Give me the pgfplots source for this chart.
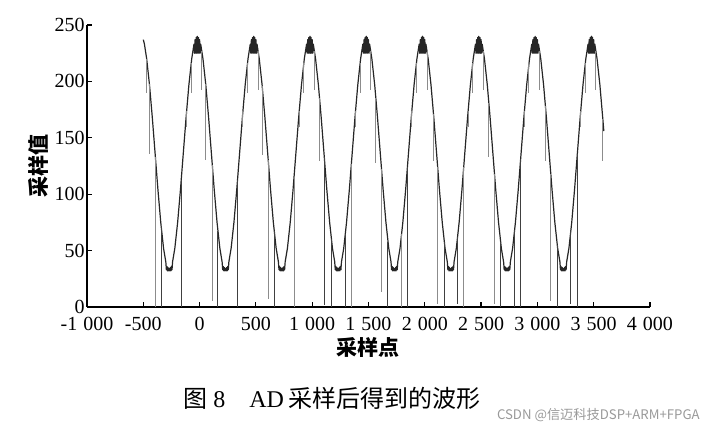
\documentclass[border=0pt]{standalone}
\usepackage{pgfplots}
\pgfplotsset{compat=1.18}
\usepackage{fontspec}
\setmainfont{Liberation Serif}
\newfontfamily\cjk{Noto Sans CJK SC}
\begin{document}
\begin{tikzpicture}[x=0.5pt,y=0.5pt]
\useasboundingbox (0,0) rectangle (714,431);
\begin{axis}[
  at={(43.5pt,62pt)}, anchor=south west,
  scale only axis, width=281.5pt, height=141pt,
  xmin=-1000, xmax=4000, ymin=0, ymax=250,
  axis lines=left, axis line style={-, line width=0.7pt},
  xtick={-1000,-500,...,4000}, ytick={0,50,...,250},
  tick align=inside, major tick length=2.5pt, tick style={line width=0.6pt, black},
  scaled x ticks=false, scaled y ticks=false,
  /pgf/number format/assume math mode=true,
  /pgf/number format/1000 sep={\hspace{0.3em}},
  ticklabel style={font=\fontsize{10}{11}\selectfont},
  yticklabel style={inner sep=1pt},
  xticklabel style={inner sep=2pt, yshift=-3pt},
  xlabel={\cjk\bfseries 采样点},
  ylabel={\cjk\bfseries 采样值},
  label style={font=\fontsize{10.5}{12}\selectfont},
  xlabel style={at={(axis description cs:0.5,-0.142)}, anchor=center},
  ylabel style={at={(axis description cs:-0.087,0.5)}, anchor=center},
  unbounded coords=jump,
  clip=false,
]
% main waveform
\addplot[black!85, line width=0.6pt, line join=round] coordinates {
(-500,237) (-490,233) (-470,220) (-445,197) (-420,168) (-395,136) (-370,104) (-345,75) (-320,52) (-300,40) (-295,33) (-290,36) (-285,32) (-280,35) (-275,32) (-270,34) (-265,32) (-260,35) (-255,32) (-250,36) (-245,33) (-240,40) (-220,52) (-195,75) (-170,104) (-145,136) (-120,168) (-95,197) (-70,220) (-50,233) (-45,225) (-40,237) (-35,225) (-30,239) (-25,225) (-20,240) (-15,225) (-10,239) (-5,225) (0,237) (5,225)
(10,233) (30,220) (55,197) (80,168) (105,136) (130,104) (155,75) (180,52) (200,40) (205,33) (210,36) (215,32) (220,35) (225,32) (230,34) (235,32) (240,35) (245,32) (250,36) (255,33) (260,40) (280,52) (305,75) (330,104) (355,136) (380,168) (405,197) (430,220) (450,233) (455,225) (460,237) (465,225) (470,239) (475,225) (480,240) (485,225) (490,239) (495,225) (500,237) (505,225)
(510,233) (530,220) (555,197) (580,168) (605,136) (630,104) (655,75) (680,52) (700,40) (705,33) (710,36) (715,32) (720,35) (725,32) (730,34) (735,32) (740,35) (745,32) (750,36) (755,33) (760,40) (780,52) (805,75) (830,104) (855,136) (880,168) (905,197) (930,220) (950,233) (955,225) (960,237) (965,225) (970,239) (975,225) (980,240) (985,225) (990,239) (995,225) (1000,237) (1005,225)
(1010,233) (1030,220) (1055,197) (1080,168) (1105,136) (1130,104) (1155,75) (1180,52) (1200,40) (1205,33) (1210,36) (1215,32) (1220,35) (1225,32) (1230,34) (1235,32) (1240,35) (1245,32) (1250,36) (1255,33) (1260,40) (1280,52) (1305,75) (1330,104) (1355,136) (1380,168) (1405,197) (1430,220) (1450,233) (1455,225) (1460,237) (1465,225) (1470,239) (1475,225) (1480,240) (1485,225) (1490,239) (1495,225) (1500,237) (1505,225)
(1510,233) (1530,220) (1555,197) (1580,168) (1605,136) (1630,104) (1655,75) (1680,52) (1700,40) (1705,33) (1710,36) (1715,32) (1720,35) (1725,32) (1730,34) (1735,32) (1740,35) (1745,32) (1750,36) (1755,33) (1760,40) (1780,52) (1805,75) (1830,104) (1855,136) (1880,168) (1905,197) (1930,220) (1950,233) (1955,225) (1960,237) (1965,225) (1970,239) (1975,225) (1980,240) (1985,225) (1990,239) (1995,225) (2000,237) (2005,225)
(2010,233) (2030,220) (2055,197) (2080,168) (2105,136) (2130,104) (2155,75) (2180,52) (2200,40) (2205,33) (2210,36) (2215,32) (2220,35) (2225,32) (2230,34) (2235,32) (2240,35) (2245,32) (2250,36) (2255,33) (2260,40) (2280,52) (2305,75) (2330,104) (2355,136) (2380,168) (2405,197) (2430,220) (2450,233) (2455,225) (2460,237) (2465,225) (2470,239) (2475,225) (2480,240) (2485,225) (2490,239) (2495,225) (2500,237) (2505,225)
(2510,233) (2530,220) (2555,197) (2580,168) (2605,136) (2630,104) (2655,75) (2680,52) (2700,40) (2705,33) (2710,36) (2715,32) (2720,35) (2725,32) (2730,34) (2735,32) (2740,35) (2745,32) (2750,36) (2755,33) (2760,40) (2780,52) (2805,75) (2830,104) (2855,136) (2880,168) (2905,197) (2930,220) (2950,233) (2955,225) (2960,237) (2965,225) (2970,239) (2975,225) (2980,240) (2985,225) (2990,239) (2995,225) (3000,237) (3005,225)
(3010,233) (3030,220) (3055,197) (3080,168) (3105,136) (3130,104) (3155,75) (3180,52) (3200,40) (3205,33) (3210,36) (3215,32) (3220,35) (3225,32) (3230,34) (3235,32) (3240,35) (3245,32) (3250,36) (3255,33) (3260,40) (3280,52) (3305,75) (3330,104) (3355,136) (3380,168) (3405,197) (3430,220) (3450,233) (3455,225) (3460,237) (3465,225) (3470,239) (3475,225) (3480,240) (3485,225) (3490,239) (3495,225) (3500,237) (3505,225)
(3510,233) (3530,220) (3555,197) (3580,168) (3590,156)
};
% dark glitches
\addplot[black!75, line width=0.5pt] coordinates {
(-342,72) (-342,0) (-342,nan)
(-163,113) (-163,0) (-163,nan)
(163,67) (163,0) (163,nan)
(337,113) (337,0) (337,nan)
(663,67) (663,0) (663,nan)
(1107,133) (1107,2) (1107,nan)
(1170,60) (1170,0) (1170,nan)
(1295,65) (1295,0) (1295,nan)
(1673,58) (1673,0) (1673,nan)
(1846,124) (1846,0) (1846,nan)
(2173,58) (2173,0) (2173,nan)
(2292,62) (2292,3) (2292,nan)
(2673,58) (2673,0) (2673,nan)
(2798,68) (2798,0) (2798,nan)
(2851,131) (2851,0) (2851,nan)
(3176,55) (3176,0) (3176,nan)
(3298,68) (3298,3) (3298,nan)
(3355,136) (3355,0)
};
% light glitches
\addplot[black!45, line width=0.5pt] coordinates {
(-393,133) (-393,0) (-393,nan)
(113,126) (113,5) (113,nan)
(610,130) (610,7) (610,nan)
(839,115) (839,0) (839,nan)
(1348,127) (1348,0) (1348,nan)
(1616,122) (1616,13) (1616,nan)
(1795,65) (1795,0) (1795,nan)
(2114,124) (2114,3) (2114,nan)
(2346,124) (2346,0) (2346,nan)
(2619,118) (2619,3) (2619,nan)
(3119,118) (3119,5) (3119,nan)
(-446,198) (-446,136) (-446,nan)
(54,198) (54,130) (54,nan)
(556,196) (556,135) (556,nan)
(1066,185) (1066,129) (1066,nan)
(1566,185) (1566,128) (1566,nan)
(2078,171) (2078,129) (2078,nan)
(2569,181) (2569,133) (2569,nan)
(3072,178) (3072,129) (3072,nan)
(3581,167) (3581,129) (3581,nan)
(-470,220) (-470,190) (-470,nan)
(-75,216) (-75,190) (-75,nan) (20,227) (20,192) (20,nan) (-115,174) (-115,160) (-115,nan)
(425,216) (425,190) (425,nan) (520,227) (520,192) (520,nan) (385,174) (385,160) (385,nan)
(925,216) (925,190) (925,nan) (1020,227) (1020,192) (1020,nan) (885,174) (885,160) (885,nan)
(1425,216) (1425,190) (1425,nan) (1520,227) (1520,192) (1520,nan) (1385,174) (1385,160) (1385,nan)
(1925,216) (1925,190) (1925,nan) (2020,227) (2020,192) (2020,nan) (1885,174) (1885,160) (1885,nan)
(2425,216) (2425,190) (2425,nan) (2520,227) (2520,192) (2520,nan) (2385,174) (2385,160) (2385,nan)
(2925,216) (2925,190) (2925,nan) (3020,227) (3020,192) (3020,nan) (2885,174) (2885,160) (2885,nan)
(3425,216) (3425,190) (3425,nan) (3520,227) (3520,192) (3520,nan) (3385,174) (3385,160)
};
\end{axis}
\node[anchor=west, inner sep=0pt, font=\fontsize{12}{14}\selectfont] at (183,33)
  {{\cjk 图}\ 8\hspace{12pt}AD\,{\cjk 采样后得到的波形}};
\node[anchor=east, inner sep=0pt, text=black!40, font=\fontsize{6.6}{8}\selectfont] at (700,16)
  {\cjk CSDN @信迈科技DSP+ARM+FPGA};
\end{tikzpicture}
\end{document}
